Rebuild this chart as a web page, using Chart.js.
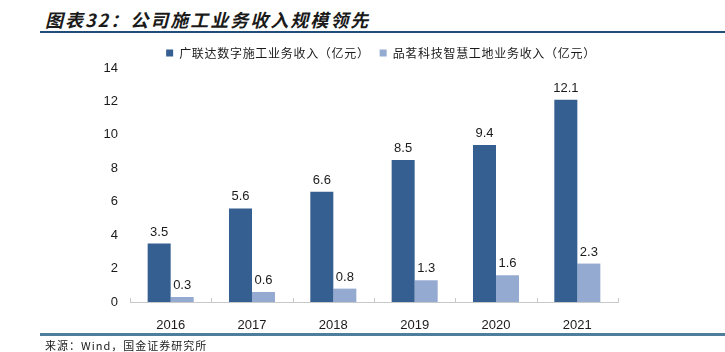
<!DOCTYPE html>
<html lang="zh">
<head>
<meta charset="UTF-8">
<title>公司施工业务收入规模领先</title>
<script src="https://cdn.jsdelivr.net/npm/chart.js"></script>
<style>
    html, body { margin: 0; padding: 0; background: #fff; }
    .page { position: relative; width: 725px; height: 352px; overflow: hidden; font-family: 'Noto Sans CJK SC', sans-serif; }
    .title { position: absolute; left: 45px; top: 6px; font-size: 18px; font-weight: bold; font-style: italic; color: #1a1a1a; letter-spacing: 2px; }
    .rule-top { position: absolute; left: 40px; right: 0; top: 31px; height: 2px; background: #1f4e79; }
    .rule-bottom { position: absolute; left: 40px; right: 0; top: 333px; height: 3px; background: #4f7d9c; }
    .source { position: absolute; left: 45px; top: 337px; font-size: 11px; color: #1a1a1a; letter-spacing: 1px; }
    .chart-box { position: absolute; left: 0; top: 0; width: 725px; height: 352px; }
</style>
</head>
<body>
<div class="page">
    <div class="title">图表32：公司施工业务收入规模领先</div>
    <div class="rule-top"></div>
    <div class="chart-box"><canvas id="revChart"></canvas></div>
    <div class="rule-bottom"></div>
    <div class="source">来源：Wind，国金证券研究所</div>
</div>

<script>
    const years = ['2016', '2017', '2018', '2019', '2020', '2021'];
    const glodonRevenue = [3.5, 5.6, 6.6, 8.5, 9.4, 12.1];
    const pinmingRevenue = [0.3, 0.6, 0.8, 1.3, 1.6, 2.3];
    const yTicks = [0, 2, 4, 6, 8, 10, 12, 14];

    const FONT_NUM = '"Liberation Sans", Arial, sans-serif';

    // value labels above each bar
    const barValues = {
        id: 'barValues',
        afterDatasetsDraw(chart) {
            const ctx = chart.ctx;
            ctx.save();
            ctx.font = '13px ' + FONT_NUM;
            ctx.fillStyle = '#1a1a1a';
            ctx.textAlign = 'center';
            ctx.textBaseline = 'bottom';
            chart.data.datasets.forEach((ds, i) => {
                chart.getDatasetMeta(i).data.forEach((bar, j) => {
                    ctx.fillText(ds.data[j].toFixed(1), bar.x, bar.y - 5);
                });
            });
            ctx.restore();
        }
    };

    // small inward tick marks between categories on the x axis
    const axisTicks = {
        id: 'axisTicks',
        afterDraw(chart) {
            const ctx = chart.ctx, x = chart.scales.x, y0 = chart.scales.y.getPixelForValue(0);
            ctx.save();
            ctx.strokeStyle = '#c8c8c8';
            ctx.lineWidth = 1;
            ctx.beginPath();
            for (let i = 0; i <= years.length; i++) {
                const px = Math.round(x.getPixelForValue(i - 0.5)) + 0.5;
                ctx.moveTo(px, y0);
                ctx.lineTo(px, y0 - 4);
            }
            ctx.stroke();
            ctx.restore();
        }
    };

    // the legend text in the source is set a little wider
    const spacedLegend = {
        id: 'spacedLegend',
        afterInit(chart) {
            const lg = chart.legend;
            if (!lg) return;
            ['fit', 'draw'].forEach(m => {
                const orig = lg[m].bind(lg);
                lg[m] = function (...args) {
                    const ctx = chart.ctx;
                    ctx.save();
                    ctx.letterSpacing = '0.7px';
                    if (m === 'draw') ctx.translate(7, 1);
                    const r = orig(...args);
                    ctx.restore();
                    return r;
                };
            });
        }
    };

    new Chart(document.getElementById('revChart'), {
        type: 'bar',
        data: {
            labels: years,
            datasets: [
                { label: '广联达数字施工业务收入（亿元）', data: glodonRevenue, backgroundColor: '#365f91' },
                { label: '品茗科技智慧工地业务收入（亿元）', data: pinmingRevenue, backgroundColor: '#95aad0' }
            ]
        },
        options: {
            responsive: true,
            maintainAspectRatio: false,
            animation: false,
            categoryPercentage: 0.566,
            barPercentage: 1,
            layout: { padding: { left: 80, right: 107, top: 36, bottom: 22 } },
            scales: {
                x: {
                    grid: { display: false },
                    border: { display: true, color: '#c8c8c8' },
                    ticks: { color: '#1a1a1a', padding: 8, font: { family: FONT_NUM, size: 13 } },
                    afterFit(scale) { scale.height = 28; }
                },
                y: {
                    min: 0,
                    max: 14,
                    afterBuildTicks(scale) { scale.ticks = yTicks.map(v => ({ value: v })); },
                    grid: { display: false, drawTicks: false },
                    border: { display: false },
                    ticks: { color: '#1a1a1a', padding: 12, font: { family: FONT_NUM, size: 13 } },
                    afterFit(scale) { scale.width = 50; }
                }
            },
            plugins: {
                legend: {
                    position: 'top',
                    fullSize: false,
                    labels: {
                        boxWidth: 7,
                        boxHeight: 7,
                        padding: 10,
                        color: '#1a1a1a',
                        font: { family: '"Noto Sans CJK SC", sans-serif', size: 12 }
                    }
                },
                tooltip: { enabled: false }
            }
        },
        plugins: [barValues, axisTicks, spacedLegend]
    });
</script>
</body>
</html>
